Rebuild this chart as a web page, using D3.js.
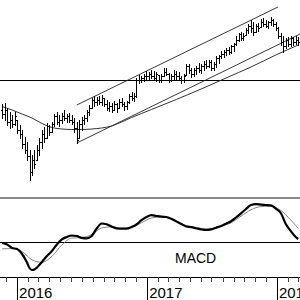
<!DOCTYPE html>
<html>
<head>
<meta charset="utf-8">
<script src="https://cdn.jsdelivr.net/npm/d3@7"></script>
<style>
  body { margin: 0; background: #fff; }
  svg { display: block; }
</style>
</head>
<body>
<svg id="chart" width="300" height="300"></svg>
<script>
// weekly bars, first one on this friday
var firstWeek = new Date(2015, 10, 20);

var high = [48,48.5,46,44,42.5,44,40,37.5,35,31.5,29,25,22.5,25,27.5,31,35,36.5,38.5,37.5,
  39,43,44,42.5,43.5,45,43,43.5,42.5,41,39,40,41.5,42.5,45,47.5,51,52,51.5,52,
  52.5,51,50,49,48.5,49.5,48.5,50.5,51,49,49.5,53,54,53.5,61,62.5,62,63,64.5,64,
  65,64.5,64,62.5,63,66,66,63.5,63,65,64.5,64,62,63,68,68,66,66,67,68.5,
  68,69.5,70,70,70,69,72,72.5,74.5,75,76,76.5,77.5,78.5,82,83.5,84,83.5,86,88,
  90,89,88,88.5,90.5,91,90,89.5,91.5,90.5,89,86.5,83.5,82,81,81.5,82,81.5,82,81.5];
var low = [41,40,37.5,36,36.5,37.5,33.5,31,26,23.5,20,10,12.5,16,20,22.5,26,29,31,32.5,
  34,37,38,37,38.5,40,39,39,38,34,28.5,31,35,38,39.5,42.5,46,47,47.5,48,
  47.5,47,45,44.5,44,45,44,46,47,45,45.5,48.5,50,49.5,51.5,58.5,59,59.5,60.5,60.5,
  61,60,59.5,59,59,62,62.5,59,59.5,60.5,60,60,58.5,59,62.5,63.5,61.5,62,63,64,
  63.5,65,66,66.5,65,65,66.5,68.5,71,71.5,72.5,73,73.5,74.5,77.5,79.5,80,80,82.5,83.5,
  84,82.5,84,84.5,86.5,87,86.5,86,87.5,87,85,81,77.5,74,76,77,77,77.5,78,77.5];
var open = [45,43,45,39,40,38,40,35,33,28,25,22,14,20,20,25,29,33,31,37,
  34,38,42,39,40,42,41,42,40,39,36,31,38,40,41,44,46,50,49,50,
  49,51,48,46,47,45,48,46,49,48,47,49,52,51,52,60,60,61,62,62,
  63,62,61,62.5,60,62,64,63,60,62,63,62,61,60,62.5,67,65,63,65,66,
  65,67,68,67,69,66,68,71,72,73,74,75,74,77,78,80,83,81,82.5,85,
  87,86,84,87,86.5,89,88,87,89,90,88,86,82,79,77,80,78,81,79,80];
var close = [43,45,39,40,38,42,35,33,28,25,22,14,20,18,25,29,33,31,37,34,
  38,42,39,40,42,41,42,40,39,36,30,38,40,41,44,46,50,49,50,49,
  51,48,46,47,45,48,46,49,48,47,49,52,51,52,60,60,61,62,62,63,
  62,61,63,60,62,64,63,60,62,63,62,61,60,62,67,65,63,65,66,65,
  67,68,67,69,66,68,71,72,73,74,75,74,77,78,80,83,81,82,85,87,
  86,84,87,86,89,88,87,89,90,88,86,82,79,77,80,78,81,79,80,79];

// 40 week average
var maDates = ["2015-11-20","2015-12-18","2016-01-15","2016-02-12","2016-03-11","2016-04-08",
  "2016-05-06","2016-06-03","2016-07-01","2016-07-29","2016-08-26","2016-09-23","2016-10-21",
  "2016-11-18","2016-12-16","2017-01-13","2017-03-24","2017-06-02","2017-08-11","2017-10-20",
  "2017-12-29","2018-03-02"];
var maValues = [46.75,45,43,41,38.25,36.25,35.5,35.25,35.25,35.5,36,37,39,41.25,43.25,45.25,
  50.25,55.5,61,66.5,72.5,77.5];

// trend channel and support level
var channelTop = [["2016-06-17", 47.5], ["2018-01-04", 96.5]];
var channelBottom = [["2016-06-17", 28.5], ["2018-03-07", 83]];
var supportLevel = 60;

// MACD [week number, value]
var macd = [[0,-0.1],[2,-0.25],[4,-0.6],[6,-0.7],[8,-1.2],[10,-2.05],[11,-2.6],[12,-2.8],
  [13,-2.75],[14,-2.55],[16,-2.0],[18,-1.4],[20,-0.9],[22,-0.25],[24,0.27],[26,0.5],[28,0.65],
  [30,0.6],[32,0.42],[34,0.37],[36,0.6],[38,1.35],[40,1.85],[42,1.77],[44,1.54],[46,1.37],
  [48,1.34],[50,1.34],[52,1.5],[54,1.75],[56,2.18],[58,2.5],[60,2.68],[62,2.6],[64,2.53],
  [66,2.5],[68,2.32],[70,2.06],[72,1.8],[74,1.55],[76,1.48],[78,1.37],[80,1.26],[82,1.2],
  [84,1.26],[86,1.43],[88,1.6],[90,1.83],[92,2.08],[94,2.45],[96,2.86],[98,3.3],[100,3.7],
  [102,3.78],[104,3.74],[106,3.7],[108,3.66],[110,3.33],[112,2.9],[114,1.8],[116,1.1],
  [118,0.5],[119,0.3]];
var signal = [[0,-0.68],[4,-0.66],[8,-0.95],[12,-1.78],[16,-2.03],[20,-1.44],[24,-0.3],
  [28,0.4],[32,0.44],[36,0.75],[40,1.4],[44,1.52],[48,1.37],[52,1.48],[56,1.92],[60,2.4],
  [64,2.51],[68,2.3],[72,1.83],[76,1.52],[80,1.36],[84,1.32],[88,1.56],[92,1.92],[96,2.58],
  [100,3.22],[104,3.54],[108,3.58],[112,3.16],[116,2.2],[119,1.37]];

var parse = d3.timeParse("%Y-%m-%d");
var weeks = high.map(function(d, i) { return d3.timeDay.offset(firstWeek, 7 * i); });

var svg = d3.select("#chart");
var W = 300;

var x = d3.scaleTime()
  .domain([new Date(2015, 10, 14), new Date(2018, 2, 7)])
  .range([0, W]);
var y = d3.scaleLinear().domain([0, 100]).range([200, 0]);
var yM = d3.scaleLinear().domain([-3.5, 4.4]).range([277, 198]);

function px(v) { return Math.round(v) + 0.5; }

// price panel
var priceG = svg.append("g").attr("class", "price");

priceG.append("line")
  .attr("x1", 0).attr("x2", W)
  .attr("y1", px(y(supportLevel))).attr("y2", px(y(supportLevel)))
  .attr("stroke", "#000").attr("stroke-width", 1);

var seg = d3.line()
  .x(function(d) { return x(parse(d[0])); })
  .y(function(d) { return y(d[1]); });

[channelTop, channelBottom].forEach(function(c) {
  priceG.append("path")
    .attr("d", seg(c))
    .attr("fill", "none")
    .attr("stroke", "#222")
    .attr("stroke-width", 0.9);
});

var maLine = d3.line()
  .x(function(d, i) { return x(parse(maDates[i])); })
  .y(function(d) { return y(d); })
  .curve(d3.curveMonotoneX);
priceG.append("path")
  .attr("d", maLine(maValues))
  .attr("fill", "none")
  .attr("stroke", "#333")
  .attr("stroke-width", 1);

var bars = priceG.selectAll("g.bar")
  .data(weeks)
  .enter().append("g")
  .attr("class", "bar")
  .attr("stroke", "#000")
  .attr("stroke-width", 1)
  .attr("shape-rendering", "crispEdges");

bars.append("line")
  .attr("x1", function(d) { return px(x(d)); })
  .attr("x2", function(d) { return px(x(d)); })
  .attr("y1", function(d, i) { return Math.round(y(high[i])); })
  .attr("y2", function(d, i) { return Math.round(y(low[i])) + 1; });
bars.append("line")
  .attr("x1", function(d) { return Math.round(x(d)) - 1; })
  .attr("x2", function(d) { return Math.round(x(d)); })
  .attr("y1", function(d, i) { return px(y(open[i])); })
  .attr("y2", function(d, i) { return px(y(open[i])); });
bars.append("line")
  .attr("x1", function(d) { return Math.round(x(d)) + 1; })
  .attr("x2", function(d) { return Math.round(x(d)) + 2; })
  .attr("y1", function(d, i) { return px(y(close[i])); })
  .attr("y2", function(d, i) { return px(y(close[i])); });

// panel divider
svg.append("line")
  .attr("x1", 0).attr("x2", W)
  .attr("y1", 198).attr("y2", 198)
  .attr("stroke", "#8a8a8a").attr("stroke-width", 2);

// MACD panel
var macdG = svg.append("g").attr("class", "macd");

macdG.append("line")
  .attr("x1", 0).attr("x2", W)
  .attr("y1", px(yM(0))).attr("y2", px(yM(0)))
  .attr("stroke", "#000");

var mLine = d3.line()
  .x(function(d) { return x(weeks[d[0]]); })
  .y(function(d) { return yM(d[1]); })
  .curve(d3.curveMonotoneX);

macdG.append("path")
  .attr("d", mLine(signal))
  .attr("fill", "none")
  .attr("stroke", "#777")
  .attr("stroke-width", 0.9);
macdG.append("path")
  .attr("d", mLine(macd))
  .attr("fill", "none")
  .attr("stroke", "#000")
  .attr("stroke-width", 2.2)
  .attr("stroke-linejoin", "round");

macdG.append("text")
  .attr("x", 175).attr("y", 263)
  .attr("font-family", "Liberation Sans, Arial, sans-serif")
  .attr("font-size", 14)
  .attr("fill", "#000")
  .text("MACD");

// time axis: monthly ticks, long ones at the year
var axis = svg.append("g")
  .attr("transform", "translate(0,277)")
  .call(d3.axisBottom(x)
    .ticks(d3.timeMonth.every(1))
    .tickSize(5)
    .tickFormat(""));
axis.select(".domain").attr("stroke", "#000").attr("d", "M0,0.5H" + W);
axis.selectAll(".tick line").attr("stroke", "#444").attr("shape-rendering", "crispEdges");

var years = x.ticks(d3.timeYear.every(1));
var yr = svg.append("g").attr("class", "years");
yr.selectAll("line")
  .data(years)
  .enter().append("line")
  .attr("x1", function(d) { return px(x(d)); })
  .attr("x2", function(d) { return px(x(d)); })
  .attr("y1", 277).attr("y2", 300)
  .attr("stroke", "#000")
  .attr("shape-rendering", "crispEdges");
yr.selectAll("text")
  .data(years)
  .enter().append("text")
  .attr("x", function(d) { return x(d) + 2; })
  .attr("y", 298)
  .attr("font-family", "Liberation Sans, Arial, sans-serif")
  .attr("font-size", 15)
  .attr("fill", "#000")
  .text(d3.timeFormat("%Y"));
</script>
</body>
</html>
